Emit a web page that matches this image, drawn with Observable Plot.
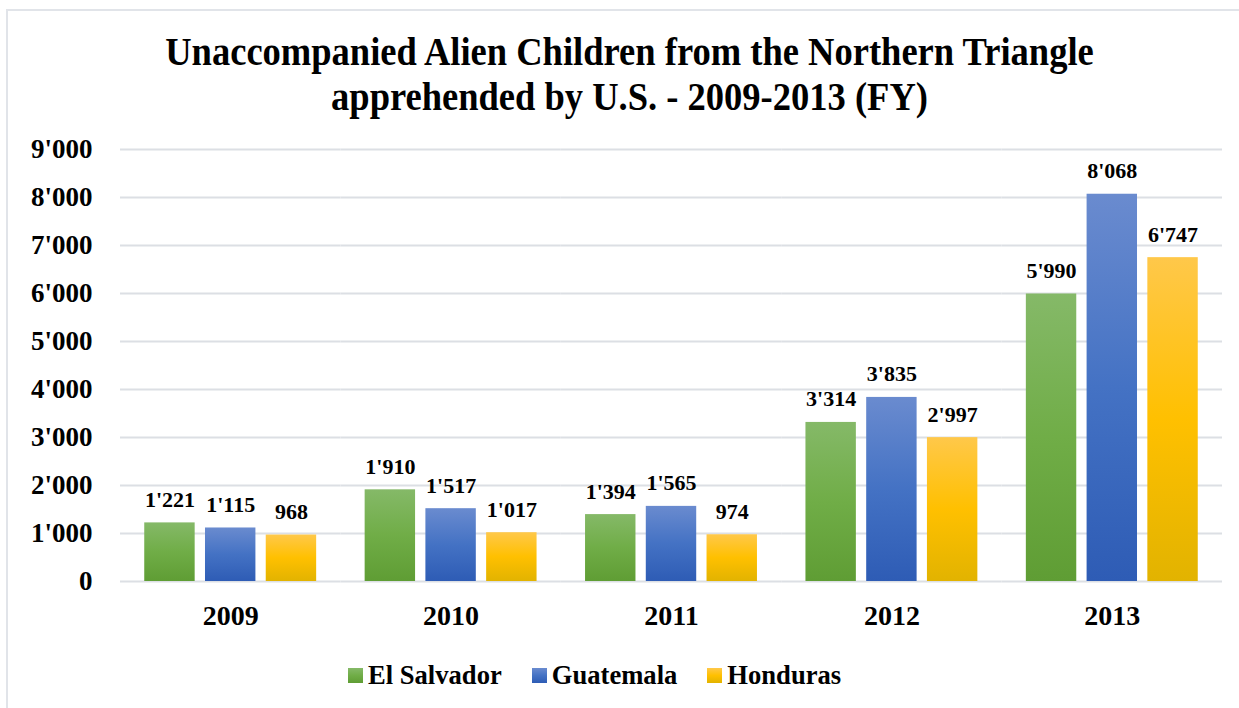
<!DOCTYPE html>
<html><head><meta charset="utf-8">
<script src="https://cdn.jsdelivr.net/npm/d3@7"></script>
<script src="https://cdn.jsdelivr.net/npm/@observablehq/plot@0.6"></script>
<style>
html,body{margin:0;padding:0;background:#fff;}
body{width:1239px;height:708px;overflow:hidden;position:relative;font-family:"Liberation Serif","Times New Roman",serif;color:#000;}
#frame{position:absolute;left:6px;top:9px;width:1300px;height:760px;border:2px solid #e1e4e9;box-sizing:border-box;}
#title{position:absolute;left:0;top:29px;width:1259px;text-align:center;font-weight:bold;font-size:40px;line-height:45px;transform:scaleX(0.913);transform-origin:629.5px 0;}
#chart{position:absolute;left:0;top:130px;}
#legend{position:absolute;left:348px;top:658px;display:flex;align-items:center;font-weight:bold;font-size:26.6px;line-height:34px;}
#legend .item{display:flex;align-items:center;margin-right:30px;}
#legend .sw{width:15px;height:15px;margin-right:5px;}
</style>
</head><body>
<div id="frame"></div>
<div id="title">Unaccompanied Alien Children from the Northern Triangle<br>apprehended by U.S. - 2009-2013 (FY)</div>
<div id="chart"></div>
<div id="legend"></div>
<script>
const years = ["2009", "2010", "2011", "2012", "2013"];
const countries = ["El Salvador", "Guatemala", "Honduras"];
const elSalvador = [1221, 1910, 1394, 3314, 5990];
const guatemala = [1115, 1517, 1565, 3835, 8068];
const honduras = [968, 1017, 974, 2997, 6747];
const yTicks = [0, 1000, 2000, 3000, 4000, 5000, 6000, 7000, 8000, 9000];

const seriesValues = [elSalvador, guatemala, honduras];
const gradIds = ["gEl", "gGu", "gHo"];
const gradStops = [
  ["#85b968", "#70ad47", "#5f9d34"],
  ["#6a8bcf", "#4472c4", "#2e5cb5"],
  ["#ffc84a", "#ffc000", "#e2b300"]
];

const table = [];
years.forEach((yr, i) => countries.forEach((c, j) => table.push({year: yr, country: c, value: seriesValues[j][i]})));

const fmt = d3.formatLocale({decimal: ".", thousands: "'", grouping: [3], currency: ["", ""]}).format(",d");

const W = 1239, H = 510, mL = 120, mR = 17, mT = 19, mB = 59;
const fxPadInner = 0.22, fxPadOuter = 0.11;
const step = (W - mL - mR) / (years.length - fxPadInner + 2 * fxPadOuter);
const half = step * fxPadInner / 2;
const outer = step * fxPadOuter;

const svg = Plot.plot({
  width: W, height: H,
  marginLeft: mL, marginRight: mR, marginTop: mT, marginBottom: mB,
  style: {fontFamily: "'Liberation Serif','Times New Roman',serif", color: "#000", background: "transparent", overflow: "visible"},
  fx: {domain: years, paddingInner: fxPadInner, paddingOuter: fxPadOuter, round: false, label: null, axis: null},
  x: {domain: countries, paddingInner: 0.17, paddingOuter: 0, round: false, axis: null},
  y: {domain: [0, 9000], axis: null},
  color: {domain: countries, range: gradIds.map(id => `url(#${id})`)},
  marks: [
    Plot.ruleY(yTicks, {stroke: "#dcdfe4", strokeWidth: 1.8, insetLeft: -half, insetRight: -half}),
    Plot.axisY({ticks: yTicks, tickFormat: fmt, tickSize: 0, tickPadding: outer + 28, fontSize: 27, fontWeight: "bold", label: null}),
    Plot.axisFx({anchor: "bottom", tickSize: 0, tickPadding: 24, fontSize: 28, fontWeight: "bold", label: null}),
    Plot.barY(table, {fx: "year", x: "country", y: "value", fill: "country"}),
    Plot.text(table, {fx: "year", x: "country", y: "value", text: d => fmt(d.value), dy: -23, fontSize: 22, fontWeight: "bold", fill: "#000"})
  ]
});

const defs = gradIds.map((id, k) => `<linearGradient id="${id}" x1="0" y1="0" x2="0" y2="1">
  <stop offset="0" stop-color="${gradStops[k][0]}"/><stop offset="0.5" stop-color="${gradStops[k][1]}"/><stop offset="1" stop-color="${gradStops[k][2]}"/></linearGradient>`).join("");
svg.insertAdjacentHTML("afterbegin", `<defs>${defs}</defs>`);
document.getElementById("chart").appendChild(svg);

const legend = document.getElementById("legend");
countries.forEach((c, k) => {
  const item = document.createElement("div");
  item.className = "item";
  const sw = document.createElement("div");
  sw.className = "sw";
  sw.style.background = `linear-gradient(${gradStops[k][0]}, ${gradStops[k][1]}, ${gradStops[k][2]})`;
  const t = document.createElement("span");
  t.textContent = c;
  item.appendChild(sw); item.appendChild(t);
  legend.appendChild(item);
});
</script>
</body></html>
